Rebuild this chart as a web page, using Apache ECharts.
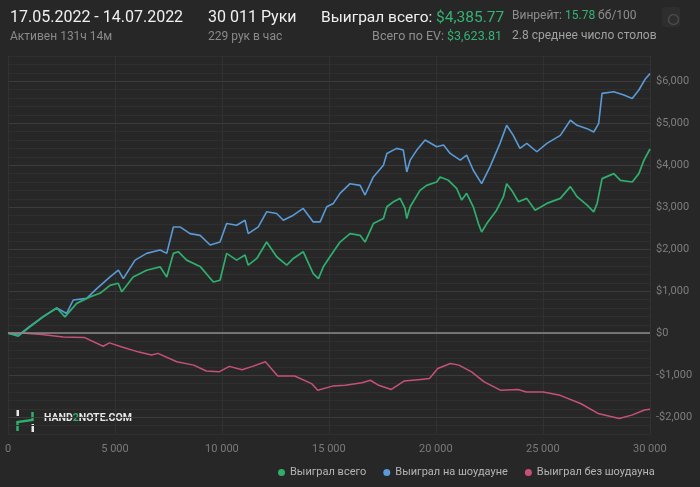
<!DOCTYPE html>
<html>
<head>
<meta charset="utf-8">
<script src="https://cdn.jsdelivr.net/npm/echarts@6/dist/echarts.min.js"></script>
<style>
html,body{margin:0;padding:0;background:#272727;}
#c{width:700px;height:487px;}
</style>
</head>
<body>
<div id="c"></div>
<script>
// ---- data (hands played, cumulative winnings $) ----
const totalHands = [0,480,1030,1650,2280,2660,3210,3830,4300,4770,5150,5320,5850,6480,7110,7420,7730,7960,8350,9000,9600,9910,10220,10690,11080,11230,11630,12090,12560,13030,13340,13800,14270,14510,14740,15050,15520,15990,16460,16690,17080,17550,17710,18020,18330,18560,18640,18800,19260,19570,20040,20200,20590,20980,21210,21440,21750,21990,22140,22380,22840,23160,23310,23550,23860,24250,24640,25190,25820,26290,26600,27070,27380,27540,27770,28320,28630,29180,29490,29730,30011];
const totalWon = [0,-70,150,390,600,390,710,865,950,1140,1190,985,1340,1500,1580,1340,1900,1940,1740,1580,1220,1260,1900,1740,1860,1620,1780,2170,1820,1620,1780,1940,1420,1300,1580,1820,2170,2370,2330,2170,2610,2730,3010,3130,3210,2970,2730,3010,3400,3520,3600,3720,3640,3440,3170,3330,3010,2610,2410,2610,2930,3250,3560,3400,3130,3210,2930,3090,3210,3490,3250,3050,2890,3090,3680,3800,3640,3600,3800,4120,4386];

const sdHands = [0,480,1030,1650,2280,2740,3050,3680,4150,4770,5160,5390,5940,6480,7110,7420,7730,8040,8510,8980,9450,9910,10220,10690,11080,11230,11700,12090,12560,12870,13340,13800,14270,14590,14900,15210,15520,15990,16460,16690,17080,17550,17710,18170,18480,18640,18800,19110,19500,20040,20360,20670,21140,21440,21750,22140,22530,23000,23310,23620,23930,24250,24720,25190,25820,26290,26600,27070,27380,27610,27770,28320,28790,29180,29490,29800,30011];
const sdWon = [0,-50,170,400,600,470,790,830,1060,1340,1500,1300,1740,1900,1980,1900,2530,2530,2370,2330,2100,2170,2610,2570,2690,2370,2530,2890,2850,2690,2810,2970,2650,2650,3010,3090,3330,3560,3520,3290,3720,4000,4280,4400,4360,3840,4120,4360,4600,4440,4480,4280,4120,4240,3880,3560,3960,4520,4950,4710,4400,4520,4320,4520,4710,5070,4950,4870,4790,4990,5710,5750,5670,5590,5790,6060,6180];

const nsdHands = [0,810,1590,2580,3560,4450,4740,5330,6120,6710,7010,7890,8680,9270,9860,10350,10940,11430,12030,12610,13400,14190,14480,15170,15760,16550,16940,17330,17920,18510,19300,19700,20090,20680,21080,21670,22260,23040,23840,24230,25020,25810,26790,27580,28570,29160,29750,30011];
const nsdWon = [0,0,-30,-90,-100,-310,-230,-330,-450,-520,-480,-680,-760,-900,-920,-790,-870,-790,-680,-1020,-1020,-1200,-1360,-1260,-1240,-1180,-1120,-1240,-1340,-1140,-1100,-1080,-840,-720,-760,-920,-1160,-1360,-1340,-1400,-1400,-1480,-1680,-1910,-2030,-1950,-1830,-1810];

const seriesNames = ['Выиграл всего','Выиграл на шоудауне','Выиграл без шоудауна'];
const xTickLabels = {0:'0',5000:'5 000',10000:'10 000',15000:'15 000',20000:'20 000',25000:'25 000',30000:'30 000'};

function zip(a,b){return a.map((v,i)=>[v,b[i]]);}
function money(v){
  if (v===0) return '$0';
  const s = Math.abs(v).toLocaleString('en-US');
  return (v<0?'-$':'$')+s;
}

const chart = echarts.init(document.getElementById('c'), null, {renderer:'canvas'});
const FF = 'Roboto, "Noto Sans", sans-serif';
const C_GREEN = '#2fae6e', C_BLUE = '#5a9ad6', C_PINK = '#c6507c';
function ts(size, color){ return {fontSize:size, fontFamily:FF, fill:color}; }

chart.setOption({
  backgroundColor:'#272727',
  animation:false,
  textStyle:{fontFamily:FF},
  grid:{left:8,right:50,top:56,bottom:53},
  legend:{
    data:seriesNames,
    left:273, top:462,
    icon:'circle', itemWidth:7, itemHeight:7, itemGap:17,
    textStyle:{color:'#b5b5b5', fontSize:11, fontFamily:FF}
  },
  xAxis:{
    type:'value', min:0, max:30011, interval:5000,
    axisLine:{show:false}, axisTick:{show:false},
    axisLabel:{color:'#7a7a7a', fontSize:11, margin:10, showMaxLabel:false,
      formatter:v=> (xTickLabels[v]!==undefined? xTickLabels[v] : '')},
    splitLine:{show:true, lineStyle:{color:'#323232', width:1}}
  },
  yAxis:{
    type:'value', position:'right', min:-2400, max:6600, interval:200,
    axisLine:{show:false}, axisTick:{show:false},
    axisLabel:{color:'#7e7e7e', fontSize:11, margin:6,
      formatter:v=> (v%1000===0 ? money(v) : '')},
    splitLine:{show:true, lineStyle:{color:['#2f2f2f','#2f2f2f','#3c3c3c','#2f2f2f','#2f2f2f'], width:1}}
  },
  graphic:[
    {type:'text', left:10, top:10, style:Object.assign({text:'17.05.2022 - 14.07.2022'}, ts(16,'#f0f0f0'))},
    {type:'text', left:10, top:31, style:Object.assign({text:'Активен 131ч 14м'}, ts(12,'#8a8a8a'))},
    {type:'text', left:208, top:10, style:Object.assign({text:'30 011 Руки'}, ts(16,'#f0f0f0'))},
    {type:'text', left:208, top:31, style:Object.assign({text:'229 рук в час'}, ts(12,'#8a8a8a'))},
    {type:'text', left:321, top:10, style:{
      text:'{w|Выиграл всего: }{g|$4,385.77}',
      rich:{w:ts(15.5,'#f0f0f0'), g:ts(15.5,'#35b374')}}},
    {type:'text', left:512, top:10, style:{
      text:'{a|Винрейт: }{g|15.78}{a| бб/100}',
      rich:{a:ts(12,'#8e8e8e'), g:ts(12,'#35b374')}}},
    {type:'text', right:198, top:30, style:{
      text:'{a|Всего по EV: }{g|$3,623.81}',
      rich:{a:ts(12.5,'#8e8e8e'), g:ts(12.5,'#35b374')}}},
    {type:'text', left:512, top:30, style:Object.assign({text:'2.8 среднее число столов'}, ts(12,'#a0a0a0'))},
    // settings button
    {type:'rect', left:662, top:7, shape:{width:18, height:20, r:3}, style:{fill:'#2e2e2e'}},
    {type:'circle', left:666, top:12, shape:{r:5}, style:{fill:'none', stroke:'#4a4a4a', lineWidth:1.5}},
    // HAND2NOTE logo
    {type:'group', left:15, top:409, children:[
      {type:'rect', shape:{x:2, y:0, width:2.5, height:7}, style:{fill:'#e6e6e6'}},
      {type:'polyline', shape:{points:[[3,22],[3,13],[18,11],[18,3]]}, style:{stroke:'#2fae6e', lineWidth:2.5, fill:'none'}},
      {type:'rect', shape:{x:17, y:15, width:2.5, height:8}, style:{fill:'#e6e6e6'}}
    ]},
    {type:'text', left:44, top:413, style:{
      text:'{w|HAND}{g|2}{w|NOTE.COM}',
      rich:{w:{fill:'#e8e8e8', fontSize:10.5, fontWeight:'bold', fontFamily:FF}, g:{fill:'#2fae6e', fontSize:10.5, fontWeight:'bold', fontFamily:FF}}}}
  ],
  series:[
    {name:seriesNames[2], type:'line', data:zip(nsdHands,nsdWon), showSymbol:false, symbol:'none',
      lineStyle:{color:C_PINK, width:1.5}, itemStyle:{color:C_PINK}, z:2,
      markLine:{silent:true, symbol:'none', label:{show:false},
        lineStyle:{color:'#8a8a8a', width:1.5, type:'solid'}, data:[{yAxis:0}]}},
    {name:seriesNames[1], type:'line', data:zip(sdHands,sdWon), showSymbol:false, symbol:'none',
      lineStyle:{color:C_BLUE, width:1.6}, itemStyle:{color:C_BLUE}, z:3},
    {name:seriesNames[0], type:'line', data:zip(totalHands,totalWon), showSymbol:false, symbol:'none',
      lineStyle:{color:C_GREEN, width:1.7}, itemStyle:{color:C_GREEN}, z:4}
  ]
});
</script>
</body>
</html>
